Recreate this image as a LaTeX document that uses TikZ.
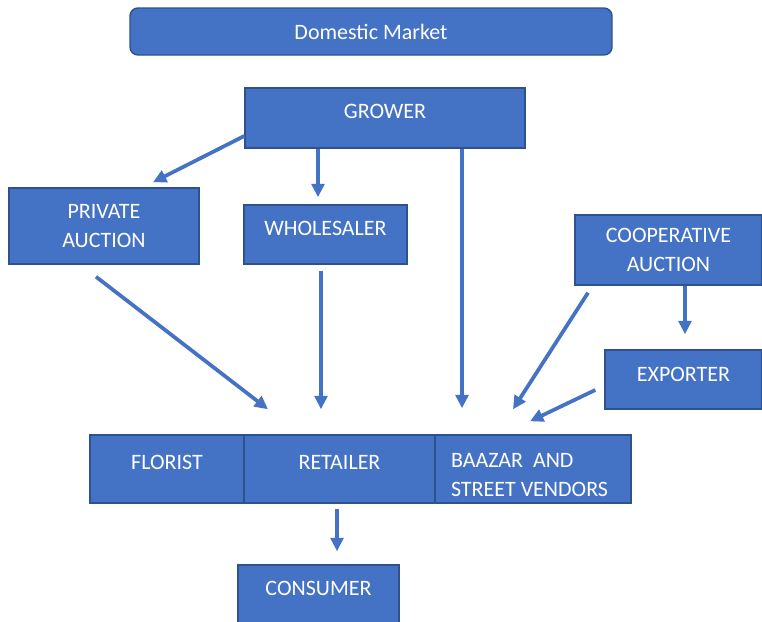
\documentclass[tikz,border=0pt]{standalone}
\usepackage{fontspec}
\setmainfont{Carlito}
\usetikzlibrary{calc,arrows.meta}
\definecolor{boxblue}{HTML}{4472C4}
\definecolor{boxedge}{HTML}{2F528F}
\tikzset{
    stage box/.style={
        draw=boxedge, line width=1.1pt, fill=boxblue,
        text=white, align=center, inner sep=0pt,
        font=\fontsize{16.5}{21.75}\selectfont
    },
    raised/.style={text depth=#1},
    flow arrow/.style={
        draw=boxblue, line width=2.8pt,
        -{Triangle[length=10pt,width=9.5pt]}
    }
}

\begin{document}
\begin{tikzpicture}[x=0.75pt,y=-0.75pt]
\useasboundingbox (0,0) rectangle (762,621);
% boxes, placed at their centres (pixel grid of the sketch)
\node[stage box, rounded corners=6pt, minimum width=361.5pt, minimum height=35.25pt]
  (market) at (371,31.5) {Domestic Market};
\node[stage box, raised=10.5pt, minimum width=210pt, minimum height=45pt]
  (grower) at (385,118) {GROWER};
\node[stage box, minimum width=142.5pt, minimum height=57pt]
  (private) at (104,226) {PRIVATE\\AUCTION};
\node[stage box, raised=9.75pt, minimum width=122.25pt, minimum height=44.25pt]
  (wholesaler) at (325.5,234.5) {WHOLESALER};
\node[stage box, minimum width=140.25pt, minimum height=52.5pt]
  (coop) at (668.5,250) {COOPERATIVE\\AUCTION};
\node[stage box, raised=8.25pt, minimum width=117.75pt, minimum height=44.25pt]
  (exporter) at (683.5,379.5) {EXPORTER};
\node[stage box, raised=10.5pt, minimum width=115.5pt, minimum height=51pt]
  (florist) at (167,469) {FLORIST};
\node[stage box, raised=10.5pt, minimum width=143.25pt, minimum height=51pt]
  (retailer) at (339.5,469) {RETAILER};
\node[stage box, align=flush left, text width=123pt, minimum width=147pt, minimum height=51pt]
  (baazar) at (533,469) {\rule{0pt}{20pt}BAAZAR\ \ AND\\STREET VENDORS};
\node[stage box, raised=12pt, minimum width=120.75pt, minimum height=46.5pt]
  (consumer) at (318.5,596) {CONSUMER};

% flows
\draw[flow arrow] ($(grower.west)+(0,18)$) -- ($(private.north)+(49,-5)$);
\draw[flow arrow] ($(grower.south)+(-67,0)$) -- ($(wholesaler.north)+(-7.5,-7)$);
\draw[flow arrow] ($(grower.south)+(77,0)$) -- ($(baazar.north)+(-71,-26)$);
\draw[flow arrow] ($(private.south)+(-8,12)$) -- ($(retailer.north)+(-71.5,-25)$);
\draw[flow arrow] ($(wholesaler.south)+(-4.5,6)$) -- ($(retailer.north)+(-18.5,-25)$);
\draw[flow arrow] ($(coop.south)+(-80.5,7)$) -- ($(baazar.north)+(-20,-25)$);
\draw[flow arrow] ($(coop.south)+(16.5,0)$) -- ($(exporter.north)+(1.5,-15)$);
\draw[flow arrow] ($(exporter.west)+(-9,10.5)$) -- ($(baazar.north)+(-3,-13)$);
\draw[flow arrow] ($(retailer.south)+(-2.5,5)$) -- ($(consumer.north)+(18.5,-13)$);
\end{tikzpicture}
\end{document}
